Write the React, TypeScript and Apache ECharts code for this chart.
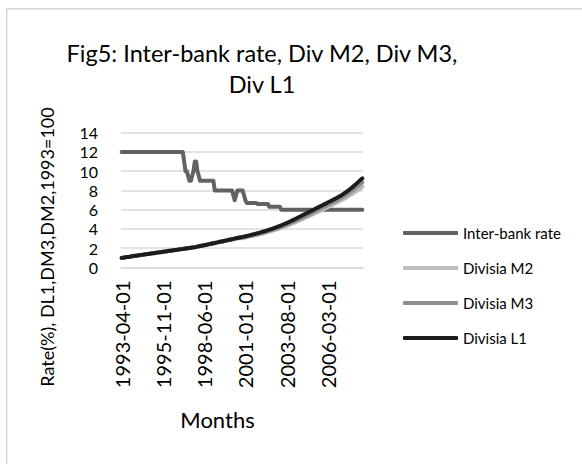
import React, { useEffect, useRef } from "react";
import * as echarts from "echarts";

const startYear = 1993;
const startMonth = 4;
const monthCount = 182;
const months: string[] = [];
for (let i = 0; i < monthCount; i++) {
  const t = startMonth - 1 + i;
  const y = startYear + Math.floor(t / 12);
  const m = (t % 12) + 1;
  months.push(`${y}-${m < 10 ? "0" + m : m}-01`);
}

const interBank = [
  12,12,12,12,12,12,12,12,12,12,
  12,12,12,12,12,12,12,12,12,12,
  12,12,12,12,12,12,12,12,12,12,
  12,12,12,12,12,12,12,12,12,12,
  12,12,12,12,12,12,12,11,10,10,
  9.5,9,9,9.5,10,11,11,10,9.5,9,
  9,9,9,9,9,9,9,9,9,9,
  8,8,8,8,8,8,8,8,8,8,
  8,8,8,8,7.5,7,7.5,8,8,8,
  8,8,7.5,7,6.7,6.7,6.7,6.7,6.7,6.7,
  6.7,6.7,6.6,6.6,6.6,6.6,6.6,6.6,6.6,6.6,
  6.6,6.3,6.3,6.3,6.3,6.3,6.3,6.3,6.3,6.3,
  6,6,6,6,6,6,6,6,6,6,
  6,6,6,6,6,6,6,6,6,6,
  6,6,6,6,6,6,6,6,6,6,
  6,6,6,6,6,6,6,6,6,6,
  6,6,6,6,6,6,6,6,6,6,
  6,6,6,6,6,6,6,6,6,6,
  6,6,
];

const divisiaM2 = [
  1.00,1.02,1.04,1.06,1.08,1.10,1.12,1.14,1.16,1.18,
  1.20,1.22,1.24,1.26,1.28,1.30,1.32,1.34,1.36,1.38,
  1.40,1.42,1.44,1.46,1.48,1.50,1.52,1.54,1.56,1.58,
  1.60,1.62,1.64,1.66,1.68,1.70,1.72,1.74,1.76,1.78,
  1.80,1.82,1.84,1.86,1.88,1.90,1.92,1.94,1.96,1.98,
  2.00,2.02,2.04,2.06,2.08,2.10,2.12,2.15,2.18,2.21,
  2.23,2.26,2.29,2.32,2.35,2.38,2.41,2.44,2.47,2.50,
  2.52,2.55,2.58,2.61,2.64,2.67,2.70,2.73,2.75,2.78,
  2.81,2.84,2.86,2.89,2.92,2.95,2.97,3.00,3.03,3.06,
  3.03,3.06,3.09,3.12,3.15,3.18,3.21,3.24,3.27,3.30,
  3.33,3.36,3.39,3.42,3.45,3.49,3.52,3.56,3.60,3.64,
  3.68,3.72,3.76,3.80,3.84,3.88,3.93,3.97,4.02,4.07,
  4.11,4.16,4.21,4.26,4.32,4.37,4.43,4.48,4.54,4.60,
  4.66,4.72,4.78,4.84,4.90,4.96,5.02,5.08,5.15,5.21,
  5.28,5.34,5.41,5.47,5.54,5.60,5.67,5.73,5.80,5.86,
  5.93,6.00,6.06,6.13,6.20,6.27,6.34,6.41,6.48,6.55,
  6.62,6.69,6.76,6.83,6.90,6.97,7.05,7.12,7.20,7.28,
  7.36,7.44,7.52,7.60,7.69,7.78,7.87,7.96,8.06,8.16,
  8.26,8.38,
];

const divisiaM3 = [
  1.00,1.02,1.04,1.06,1.08,1.10,1.12,1.15,1.17,1.19,
  1.21,1.23,1.25,1.27,1.29,1.31,1.33,1.35,1.37,1.39,
  1.41,1.43,1.45,1.47,1.49,1.51,1.53,1.55,1.57,1.59,
  1.61,1.63,1.65,1.67,1.69,1.71,1.73,1.75,1.77,1.79,
  1.81,1.83,1.85,1.87,1.89,1.91,1.93,1.95,1.97,1.99,
  2.01,2.03,2.05,2.07,2.09,2.11,2.14,2.17,2.20,2.23,
  2.25,2.28,2.31,2.34,2.37,2.40,2.43,2.46,2.49,2.52,
  2.55,2.58,2.61,2.64,2.67,2.70,2.73,2.76,2.79,2.82,
  2.85,2.88,2.91,2.94,2.97,3.00,3.03,3.06,3.09,3.12,
  3.08,3.11,3.14,3.17,3.20,3.23,3.26,3.29,3.32,3.36,
  3.39,3.42,3.46,3.49,3.53,3.57,3.60,3.64,3.68,3.72,
  3.76,3.81,3.85,3.90,3.94,3.99,4.04,4.08,4.13,4.18,
  4.23,4.28,4.34,4.39,4.45,4.50,4.56,4.62,4.68,4.74,
  4.80,4.86,4.93,4.99,5.05,5.12,5.18,5.25,5.31,5.38,
  5.45,5.51,5.58,5.65,5.72,5.79,5.86,5.93,6.00,6.07,
  6.14,6.21,6.28,6.35,6.42,6.49,6.56,6.63,6.70,6.77,
  6.84,6.91,6.98,7.06,7.14,7.22,7.30,7.38,7.47,7.56,
  7.65,7.74,7.84,7.94,8.04,8.14,8.25,8.36,8.48,8.60,
  8.72,8.85,
];

const divisiaL1 = [
  1.00,1.02,1.04,1.06,1.08,1.10,1.12,1.15,1.17,1.19,
  1.21,1.23,1.25,1.27,1.29,1.31,1.33,1.35,1.37,1.39,
  1.41,1.43,1.45,1.47,1.49,1.51,1.53,1.55,1.57,1.59,
  1.61,1.63,1.65,1.67,1.69,1.71,1.73,1.75,1.77,1.79,
  1.81,1.83,1.85,1.87,1.89,1.91,1.93,1.95,1.97,1.99,
  2.01,2.03,2.05,2.07,2.09,2.11,2.14,2.17,2.20,2.23,
  2.25,2.28,2.31,2.34,2.37,2.40,2.43,2.46,2.49,2.52,
  2.55,2.58,2.61,2.64,2.67,2.70,2.73,2.76,2.79,2.82,
  2.85,2.88,2.91,2.94,2.97,3.00,3.03,3.06,3.09,3.12,
  3.15,3.18,3.21,3.24,3.27,3.31,3.34,3.38,3.41,3.45,
  3.48,3.52,3.55,3.59,3.63,3.67,3.71,3.75,3.79,3.84,
  3.88,3.93,3.97,4.02,4.07,4.12,4.17,4.22,4.27,4.32,
  4.37,4.43,4.49,4.55,4.61,4.67,4.74,4.80,4.87,4.94,
  5.00,5.07,5.14,5.21,5.28,5.35,5.42,5.49,5.56,5.63,
  5.70,5.77,5.84,5.91,5.98,6.05,6.12,6.19,6.26,6.33,
  6.40,6.47,6.54,6.61,6.68,6.75,6.82,6.89,6.96,7.03,
  7.10,7.17,7.24,7.32,7.40,7.48,7.57,7.66,7.76,7.86,
  7.96,8.06,8.17,8.28,8.40,8.52,8.64,8.76,8.89,9.02,
  9.15,9.25,
];

const yTicks = { min: 0, max: 14, interval: 2 };
const FONT = "Lato, 'Open Sans', sans-serif";

export default function App() {
  const ref = useRef<HTMLDivElement>(null);
  useEffect(() => {
    if (!ref.current) return;
    const chart = echarts.init(ref.current, null, { renderer: "svg" });
    const lineSeries = (name: string, data: number[], color: string) => ({
      name,
      type: "line",
      data,
      color,
      symbol: "none",
      lineStyle: { width: 4, color, cap: "round", join: "round" },
      emphasis: { disabled: true },
    });
    chart.setOption({
      animation: false,
      backgroundColor: "#ffffff",
      textStyle: { fontFamily: FONT },
      grid: { left: 121, right: 219, top: 132.7, bottom: 196.5, containLabel: false },
      legend: {
        orient: "vertical",
        left: 403,
        top: 225,
        padding: 0,
        icon: "roundRect",
        itemWidth: 55,
        itemHeight: 4,
        itemGap: 19,
        textStyle: { fontSize: 15, color: "#000", fontFamily: FONT, lineHeight: 16 },
        data: ["Inter-bank rate", "Divisia M2", "Divisia M3", "Divisia L1"],
      },
      xAxis: {
        type: "category",
        data: months,
        boundaryGap: true,
        axisLine: { lineStyle: { color: "#d9d9d9", width: 1.5 } },
        axisTick: { interval: 30, length: 6, lineStyle: { color: "#d9d9d9", width: 1.5 } },
        axisLabel: {
          interval: 30,
          rotate: 90,
          margin: 13,
          fontSize: 20,
          color: "#000",
          fontFamily: FONT,
        },
        splitLine: { show: false },
      },
      yAxis: {
        type: "value",
        min: yTicks.min,
        max: yTicks.max,
        interval: yTicks.interval,
        axisLine: { show: false },
        axisTick: { show: false },
        axisLabel: {
          fontSize: 16,
          lineHeight: 16,
          color: "#000",
          margin: 23,
          fontFamily: FONT,
          showMinLabel: true,
          showMaxLabel: true,
          hideOverlap: false,
        },
        splitLine: { lineStyle: { color: "#d9d9d9", width: 1.5 } },
      },
      graphic: [
        {
          type: "rect",
          shape: { x: 6.75, y: 8.75, width: 620, height: 520 },
          style: { fill: "none", stroke: "#d9d9d9", lineWidth: 1.5 },
          silent: true,
        },
        {
          type: "text",
          x: 262,
          y: 53,
          style: {
            text: "Fig5: Inter-bank rate, Div M2, Div M3,",
            fontSize: 23.5,
            fontFamily: FONT,
            fill: "#000",
            align: "center",
            verticalAlign: "middle",
          },
        },
        {
          type: "text",
          x: 262,
          y: 84,
          style: {
            text: "Div L1",
            fontSize: 23.5,
            fontFamily: FONT,
            fill: "#000",
            align: "center",
            verticalAlign: "middle",
          },
        },
        {
          type: "text",
          x: 47,
          y: 247,
          rotation: Math.PI / 2,
          style: {
            text: "Rate(%), DL1,DM3,DM2,1993=100",
            fontSize: 18,
            fontFamily: FONT,
            fill: "#000",
            align: "center",
            verticalAlign: "middle",
          },
        },
        {
          type: "text",
          x: 217.5,
          y: 419,
          style: {
            text: "Months",
            fontSize: 22,
            fontFamily: FONT,
            fill: "#000",
            align: "center",
            verticalAlign: "middle",
          },
        },
      ],
      series: [
        lineSeries("Inter-bank rate", interBank, "#626262"),
        lineSeries("Divisia M2", divisiaM2, "#bcbcbc"),
        lineSeries("Divisia M3", divisiaM3, "#8e8e8e"),
        lineSeries("Divisia L1", divisiaL1, "#1c1c1c"),
      ],
    });
    return () => chart.dispose();
  }, []);
  return (
    <div
      ref={ref}
      style={{ position: "fixed", left: 0, top: 0, width: 582, height: 464 }}
    />
  );
}
